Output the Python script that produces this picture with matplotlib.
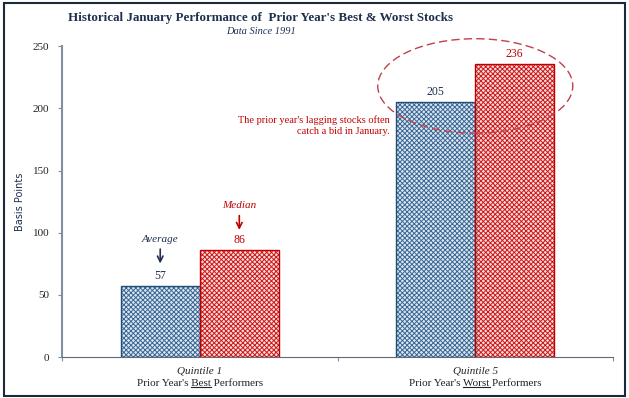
import numpy as np
import matplotlib.pyplot as plt
from matplotlib.patches import Ellipse, Rectangle

# data
groups = ['Quintile 1', 'Quintile 5']
group_desc = ["Prior Year's Best Performers", "Prior Year's Worst Performers"]
underline_word = ['Best', 'Worst']
average = [57, 205]
median = [86, 236]

blue = '#1f4e79'
blue_pat = '#3a6896'
red = '#c00000'
red_pat = '#d01818'
navy = '#1f2f4f'

plt.rcParams['font.family'] = 'Liberation Serif'
plt.rcParams['hatch.linewidth'] = 0.7

fig = plt.figure(figsize=(6.29, 3.98), dpi=100)
ax = fig.add_axes([0.0986, 0.103, 0.876, 0.781])

x = np.arange(len(groups))
w = 0.287

# hatched fill on a light tint, then the outline on top
ax.bar(x - w / 2, average, w, facecolor='#dde6ef', edgecolor=blue_pat, hatch='xxxxxxx', linewidth=0)
ax.bar(x + w / 2, median, w, facecolor='#f6dcdc', edgecolor=red_pat, hatch='xxxxxxx', linewidth=0)
ax.bar(x - w / 2, average, w, fill=False, edgecolor=blue, linewidth=1)
ax.bar(x + w / 2, median, w, fill=False, edgecolor=red, linewidth=1)

for i in range(len(groups)):
    ax.text(x[i] - w / 2, average[i] + 3, str(average[i]), ha='center', va='bottom', fontsize=8.5, color=navy)
    ax.text(x[i] + w / 2, median[i] + 3, str(median[i]), ha='center', va='bottom', fontsize=8.5, color=red)

ax.set_xlim(-0.5, 1.5)
ax.set_ylim(0, 250)
ax.set_yticks([0, 50, 100, 150, 200, 250])
ax.set_xticks([-0.5, 0.5, 1.5])
ax.set_xticklabels([])
ax.tick_params(axis='y', labelsize=8, colors='#7f8c99', labelcolor='#222222', length=3, pad=6)
ax.tick_params(axis='x', colors='#7f8c99', length=3)

for s in ['top', 'right']:
    ax.spines[s].set_visible(False)
ax.spines['left'].set_color('#8090a0')
ax.spines['left'].set_linewidth(1.5)
ax.spines['bottom'].set_color('#606a78')

ax.set_ylabel('Basis Points', fontsize=7, family='DejaVu Sans', color=navy, labelpad=6)

# arrows for Average / Median
ax.annotate('', xy=(x[0] - w / 2, 73), xytext=(x[0] - w / 2, 89),
            arrowprops=dict(arrowstyle='->', color=navy, lw=1.2))
ax.text(x[0] - w / 2, 91, 'Average', ha='center', va='bottom', fontsize=8, style='italic', color=navy)
ax.annotate('', xy=(x[0] + w / 2, 100), xytext=(x[0] + w / 2, 116),
            arrowprops=dict(arrowstyle='->', color=red, lw=1.2))
ax.text(x[0] + w / 2, 118, 'Median', ha='center', va='bottom', fontsize=8, style='italic', color=red)

# highlight ellipse
ax.add_patch(Ellipse((1.0, 218), 0.708, 76, fill=False, edgecolor='#c0404f',
                     linestyle=(0, (6, 3)), lw=1, clip_on=False))
ax.text(0.69, 186, "The prior year's lagging stocks often\ncatch a bid in January.",
        ha='right', va='center', fontsize=7.5, color=red, linespacing=1.3)

# category labels
fig.canvas.draw()
r = fig.canvas.get_renderer()
for i in range(len(groups)):
    ax.text(x[i], -8, groups[i], ha='center', va='top', fontsize=8, style='italic', color='#222222')
    t = ax.text(x[i], -18, group_desc[i], ha='center', va='top', fontsize=8, color='#222222')
    full = t.get_window_extent(r)
    pre = group_desc[i].split(underline_word[i])[0]
    tp = fig.text(0, 0, pre + '|', fontsize=8)
    tb = fig.text(0, 0, '|', fontsize=8)
    tw = fig.text(0, 0, underline_word[i], fontsize=8)
    x0 = full.x0 + tp.get_window_extent(r).width - tb.get_window_extent(r).width
    x1 = x0 + tw.get_window_extent(r).width
    for tt in (tp, tb, tw):
        tt.remove()
    yline = full.y0 + 1
    fig.add_artist(plt.Line2D([x0 / fig.bbox.width, x1 / fig.bbox.width],
                              [yline / fig.bbox.height] * 2, color='#222222', lw=0.8))

fig.text(0.415, 0.955, "Historical January Performance of  Prior Year's Best & Worst Stocks",
         ha='center', va='center', fontsize=9.4, weight='bold', color=navy)
fig.text(0.415, 0.922, 'Data Since 1991', ha='center', va='center', fontsize=7.5, style='italic', color=navy)

fig.add_artist(Rectangle((0.006, 0.006), 0.988, 0.986, transform=fig.transFigure,
                         fill=False, edgecolor='#1a2a3a', lw=1.5))

fig.savefig('out.png', dpi=100)
